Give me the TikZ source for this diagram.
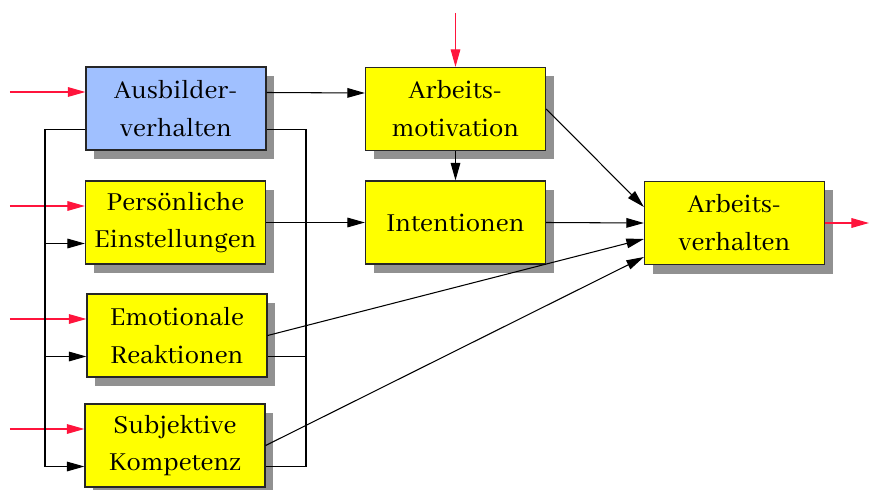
\documentclass[tikz,border=0pt]{standalone}
\usepackage{fontspec}
\setmainfont{Abhaya Libre}
\usetikzlibrary{arrows.meta,shadows}
\definecolor{boxyellow}{RGB}{255,255,0}
\definecolor{boxblue}{RGB}{160,192,255}
\definecolor{inred}{RGB}{255,20,60}
\definecolor{shadowgray}{RGB}{145,145,145}
\begin{document}
\begin{tikzpicture}[line join=miter,
    >={Triangle[length=10pt,width=5.5pt]},
    box/.style={draw=black!85, line width=0.7pt, fill=boxyellow,
      minimum width=3.6cm, minimum height=1.66cm, align=center,
      inner sep=1pt, font=\fontsize{16.2}{21.5}\selectfont,
      drop shadow={shadow xshift=0.16cm, shadow yshift=-0.18cm,
        fill=shadowgray, opacity=1}},
    link/.style={line width=0.6pt, ->},
    wire/.style={line width=0.6pt},
    ext/.style={line width=0.6pt, ->, color=inred}]
  \useasboundingbox (0,0) rectangle (17.38,9.78);
  \node[box, fill=boxblue] (ausb) at (3.52,7.61) {Ausbilder-\\verhalten};
  \node[box] (pers) at (3.51,5.33) {Persönliche\\Einstellungen};
  \node[box] (emot) at (3.54,3.07) {Emotionale\\Reaktionen};
  \node[box] (subj) at (3.50,0.87) {Subjektive\\Kompetenz};
  \node[box] (motiv) at (9.11,7.60) {Arbeits-\\motivation};
  \node[box] (inten) at (9.11,5.33) {Intentionen};
  \node[box] (verh) at (14.69,5.32) {Arbeits-\\verhalten};
  % ports
  \coordinate (src) at (0.2,0);
  \coordinate (lbus) at (0.9,0);
  \coordinate (rbus) at (6.12,0);
  \coordinate (top) at (9.11,9.52);
  \coordinate (out) at (17.38,5.32);
  \foreach \b in {ausb,pers,emot,subj} {
    \coordinate (\b-up) at ([yshift=0.33cm]\b.west);
    \coordinate (\b-lo) at ([yshift=-0.42cm]\b.west);
    \coordinate (\b-ro) at ([yshift=-0.42cm]\b.east);
    \draw[ext] (src |- \b-up) -- (\b-up);
  }
  % feedback loop
  \draw[wire] (ausb-lo) -- (lbus |- ausb-lo) -- (lbus |- subj-lo);
  \foreach \b in {pers,emot,subj}
    \draw[link] (lbus |- \b-lo) -- (\b-lo);
  \draw[wire] (ausb-ro) -- (rbus |- ausb-ro) -- (rbus |- subj-ro) -- (subj-ro);
  \draw[wire] (emot-ro) -- (rbus |- emot-ro);
  % main paths
  \draw[link] ([yshift=0.32cm]ausb.east) -- ([yshift=0.32cm]motiv.west);
  \draw[link] (pers.east) -- (inten.west);
  \draw[link] (motiv.south) -- (inten.north);
  \draw[ext] (top) -- (motiv.north);
  \draw[link] (motiv.east) -- ([yshift=0.32cm]verh.west);
  \draw[link] (inten.east) -- (verh.west);
  \draw[link] (emot.east) -- ([yshift=-0.32cm]verh.west);
  \draw[link] (subj.east) -- ([yshift=-0.68cm]verh.west);
  \draw[ext] (verh.east) -- (out);
\end{tikzpicture}
\end{document}
